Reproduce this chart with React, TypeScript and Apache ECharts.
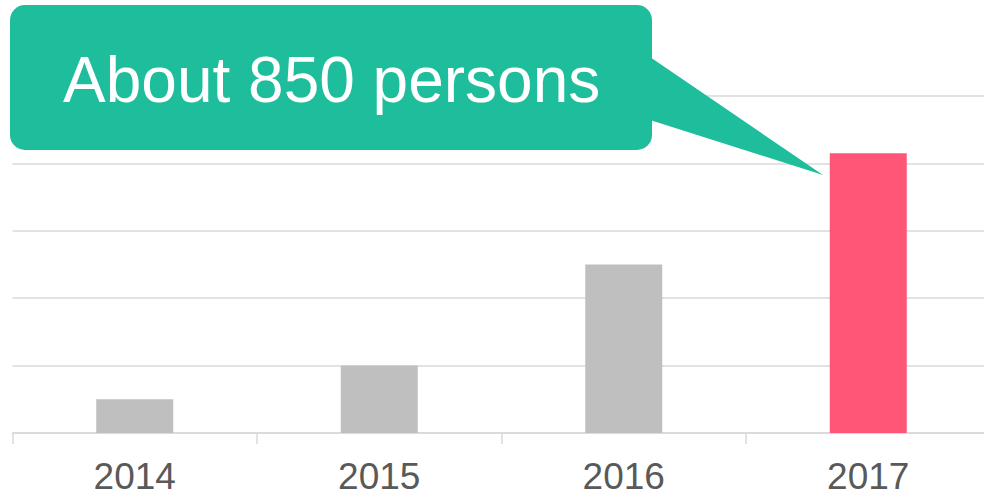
import React, { useEffect, useRef } from "react";
import * as echarts from "echarts";

const categories = ["2014", "2015", "2016", "2017"];
const values = [100, 200, 500, 830];
const highlightIndex = 3;
const calloutText = "About 850 persons";
const yMin = 0;
const yMax = 1000;
const yInterval = 200;

export default function App() {
  const ref = useRef<HTMLDivElement>(null);
  useEffect(() => {
    if (!ref.current) return;
    const chart = echarts.init(ref.current, null, { renderer: "svg" });
    chart.setOption({
      animation: false,
      backgroundColor: "#ffffff",
      grid: { left: 12.5, top: 96, width: 978, bottom: 62, containLabel: false },
      xAxis: {
        type: "category",
        data: categories,
        axisLine: { show: true, lineStyle: { color: "#d9d9d9", width: 1.5 } },
        axisTick: { show: true, length: 11, lineStyle: { color: "#d9d9d9", width: 1.5 } },
        axisLabel: {
          color: "#595959",
          fontSize: 37,
          lineHeight: 30,
          fontFamily: "Liberation Sans, Arial, sans-serif",
          margin: 28,
        },
      },
      yAxis: {
        type: "value",
        min: yMin,
        max: yMax,
        interval: yInterval,
        axisLabel: { show: false },
        axisLine: { show: false },
        axisTick: { show: false },
        splitLine: { show: true, lineStyle: { color: "#d9d9d9", width: 1.5 } },
      },
      series: [
        {
          type: "bar",
          barWidth: 77,
          data: values.map((v, i) => ({
            value: v,
            itemStyle: { color: i === highlightIndex ? "#ff5577" : "#bfbfbf" },
          })),
        },
      ],
      graphic: [
        {
          type: "polygon",
          z: 100,
          shape: { points: [[650, 57], [823, 175], [650, 120]] },
          style: { fill: "#1ebd9c" },
        },
        {
          type: "rect",
          z: 100,
          shape: { x: 10, y: 5, width: 642, height: 145, r: 15 },
          style: { fill: "#1ebd9c" },
        },
        {
          type: "text",
          z: 101,
          x: 63,
          y: 80,
          style: {
            text: calloutText,
            fill: "#ffffff",
            fontSize: 64,
            fontFamily: "Liberation Sans, Arial, sans-serif",
            verticalAlign: "middle",
          },
        },
      ],
    });
    return () => chart.dispose();
  }, []);
  return (
    <div style={{ position: "fixed", left: 0, top: 0, width: 984, height: 495, overflow: "hidden" }}>
      <div ref={ref} style={{ width: 1000, height: 495 }} />
    </div>
  );
}
